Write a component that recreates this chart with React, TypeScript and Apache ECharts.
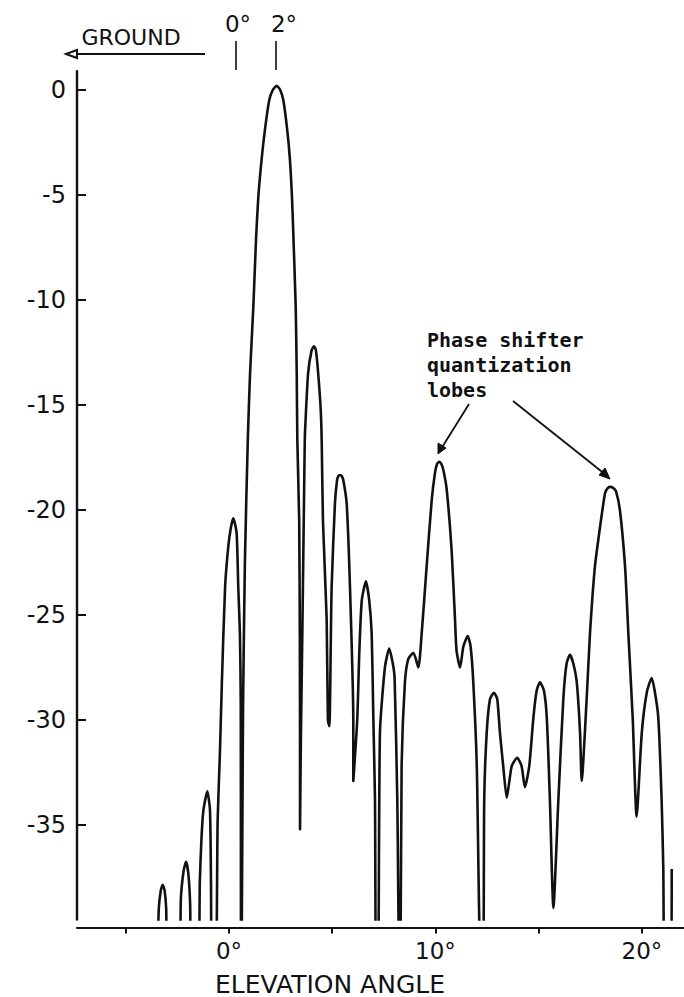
import React, { useEffect, useRef } from "react";
import * as echarts from "echarts";

// Antenna pattern: elevation angle (deg) vs relative level (dB)
const angleDeg: number[] = [
  -3.47, -3.4, -3.3, -3.21, -3.12, -3.04, -2.99,
  -2.42, -2.33, -2.2, -2.08, -1.97, -1.88, -1.83,
  -1.5, -1.41, -1.33, -1.24, -1.05, -0.92, -0.87, -0.83,
  -0.64, -0.55, -0.44, -0.35, -0.19, -0.03, 0.1, 0.21, 0.37, 0.45, 0.53, 0.57, 0.585,
  0.66, 0.68, 0.77, 0.91, 1.02, 1.18, 1.31, 1.42, 1.58, 1.74, 1.95, 2.12, 2.31, 2.48, 2.63, 2.82, 2.95, 3.05, 3.11, 3.23, 3.28, 3.31, 3.4, 3.43, 3.44, 3.44,
  3.48, 3.55, 3.62, 3.67, 3.7, 3.83, 4.0, 4.12, 4.21, 4.32, 4.44, 4.49, 4.55, 4.73, 4.79, 4.86,
  4.97, 5.13, 5.23, 5.3, 5.38, 5.46, 5.54, 5.7, 5.86, 6.02, 6.02,
  6.21, 6.31, 6.43, 6.63, 6.79, 6.91, 6.99, 7.07, 7.12,
  7.22, 7.31, 7.55, 7.76, 7.93, 8.02, 8.15, 8.25,
  8.3, 8.36, 8.52, 8.68, 8.93, 9.17, 9.33, 9.57, 9.82, 9.98, 10.08, 10.18, 10.28, 10.38, 10.54, 10.78, 10.94, 11.02, 11.19, 11.35, 11.56, 11.7, 11.83, 12.0, 12.19,
  12.31, 12.36, 12.48, 12.64, 12.83, 12.99, 13.12, 13.28, 13.45, 13.69, 13.96, 14.17, 14.33,
  14.54, 14.74, 14.9, 15.06, 15.25, 15.39, 15.54, 15.71,
  15.95, 16.19, 16.35, 16.51, 16.67, 16.84, 17.0, 17.08,
  17.32, 17.48, 17.72, 17.97, 18.21, 18.35, 18.48, 18.61, 18.74, 18.93, 19.18, 19.34, 19.55, 19.74,
  19.99, 20.23, 20.47, 20.63, 20.79, 20.95, 21.03, 21.11,
  21.4, 21.44,
];

const levelDb: number[] = [
  -42, -39.0, -38.1, -37.85, -38.1, -39.0, -42,
  -42, -38.5, -37.2, -36.75, -37.3, -38.8, -42,
  -42, -37.6, -35.6, -34.3, -33.4, -34.3, -37.9, -42,
  -42, -34.8, -31.6, -28.4, -23.7, -21.7, -20.8, -20.4, -21.1, -23.7, -25.9, -29.2, -45,
  -33, -29.5, -22.5, -16.7, -13.5, -10.3, -7.1, -5.1, -3.3, -1.9, -0.48, 0.0, 0.2, 0.0, -0.48, -1.9, -3.3, -5.1, -6.7, -10.3, -13.5, -16.7, -20.5, -26.0, -31.6, -35.2,
  -31.0, -26.0, -20.5, -16.7, -15.9, -13.5, -12.4, -12.2, -12.4, -13.5, -15.2, -16.7, -20.5, -25.2, -30.0, -30.3,
  -23.7, -19.7, -18.6, -18.38, -18.33, -18.38, -18.6, -19.7, -23.7, -30.0, -32.9,
  -30.0, -26.8, -24.3, -23.4, -24.3, -25.9, -29.9, -33.8, -42,
  -42, -30.6, -27.5, -26.6, -27.3, -28.0, -33.8, -42,
  -42, -32.2, -28.2, -27.1, -26.8, -27.5, -25.9, -22.7, -19.5, -18.2, -17.8, -17.7, -17.8, -18.1, -19.0, -21.9, -25.1, -26.7, -27.5, -26.5, -26.0, -26.5, -28.2, -32.2, -42,
  -42, -33.8, -30.6, -29.0, -28.7, -29.0, -30.6, -32.2, -33.7, -32.2, -31.8, -32.2, -33.2,
  -32.2, -29.9, -28.6, -28.2, -28.6, -29.9, -33.8, -38.95,
  -33.8, -29.0, -27.3, -26.9, -27.3, -28.2, -30.6, -32.9,
  -29.0, -25.9, -22.7, -20.8, -19.2, -18.95, -18.9, -18.95, -19.1, -20.0, -22.7, -25.9, -29.9, -34.6,
  -30.6, -28.7, -28.0, -28.7, -29.9, -33.8, -37.0, -42,
  -42, -37.1,
];

const yTickValues: number[] = [0, -5, -10, -15, -20, -25, -30, -35];
const xTickValues: number[] = [-5, 0, 5, 10, 15, 20];
const xLabelValues: number[] = [0, 10, 20];

const xAxisTitle = "ELEVATION ANGLE";
const groundLabel = "GROUND";
const topMarks: string[] = ["0°", "2°"];
const annotationLines: string[] = ["Phase shifter", "quantization", "lobes"];

export default function App() {
  const ref = useRef<HTMLDivElement>(null);

  useEffect(() => {
    if (!ref.current) return;
    const chart = echarts.init(ref.current, null, { renderer: "svg" });
    const data = angleDeg.map((a, i) => [a, levelDb[i]]);
    const ink = "#111";
    const font = "DejaVu Sans";

    chart.setOption({
      animation: false,
      backgroundColor: "#fff",
      grid: {
        left: 77,
        right: 0.7,
        top: 71.1,
        bottom: 77.5,
        outerBoundsMode: "none",
        containLabel: false,
      },
      xAxis: {
        type: "value",
        min: -7.36,
        max: 22,
        offset: 8,
        axisLine: { show: true, onZero: false, lineStyle: { color: ink, width: 2.2 } },
        axisTick: {
          show: true,
          inside: false,
          length: 6,
          customValues: xTickValues,
          lineStyle: { color: ink, width: 2 },
        },
        axisLabel: {
          show: true,
          customValues: xLabelValues,
          formatter: (v: number) => `${v}°`,
          color: ink,
          fontFamily: font,
          fontSize: 23,
          margin: 12,
        },
        splitLine: { show: false },
      },
      yAxis: {
        type: "value",
        min: -39.5,
        max: 0.9,
        axisLine: { show: true, onZero: false, lineStyle: { color: ink, width: 2.4 } },
        axisTick: {
          show: true,
          inside: true,
          length: 9,
          customValues: yTickValues,
          lineStyle: { color: ink, width: 2 },
        },
        axisLabel: {
          show: true,
          customValues: yTickValues,
          color: ink,
          fontFamily: font,
          fontSize: 24,
          margin: 11,
        },
        splitLine: { show: false },
      },
      series: [
        {
          type: "line",
          data,
          showSymbol: false,
          symbol: "none",
          clip: true,
          smooth: 0.2,
          lineStyle: { color: ink, width: 2.6, join: "round" },
        },
      ],
      graphic: [
        // GROUND arrow
        { type: "line", shape: { x1: 205, y1: 54, x2: 72, y2: 54 }, style: { stroke: ink, lineWidth: 2 } },
        { type: "polygon", shape: { points: [[66, 54], [77, 50], [77, 58]] }, style: { fill: "#fff", stroke: ink, lineWidth: 2 } },
        {
          type: "text",
          x: 131,
          y: 37,
          style: { text: groundLabel, font: `22px "${font}"`, fill: ink, textAlign: "center", textVerticalAlign: "middle" },
        },
        // top angle marks
        {
          type: "text",
          x: 238,
          y: 24,
          style: { text: topMarks[0], font: `23px "${font}"`, fill: ink, textAlign: "center", textVerticalAlign: "middle" },
        },
        {
          type: "text",
          x: 284,
          y: 24,
          style: { text: topMarks[1], font: `23px "${font}"`, fill: ink, textAlign: "center", textVerticalAlign: "middle" },
        },
        { type: "line", shape: { x1: 236, y1: 41, x2: 236, y2: 70 }, style: { stroke: ink, lineWidth: 1.6 } },
        { type: "line", shape: { x1: 276, y1: 41, x2: 276, y2: 70 }, style: { stroke: ink, lineWidth: 1.6 } },
        // axis title
        {
          type: "text",
          x: 330,
          y: 984,
          style: { text: xAxisTitle, font: `25px "${font}"`, fill: ink, textAlign: "center", textVerticalAlign: "middle" },
        },
        // annotation
        {
          type: "text",
          x: 427,
          y: 365,
          style: {
            text: annotationLines.join("\n"),
            font: `bold 20px "DejaVu Sans Mono"`,
            lineHeight: 25,
            fill: ink,
            textAlign: "left",
            textVerticalAlign: "middle",
          },
        },
        { type: "line", shape: { x1: 469, y1: 404, x2: 441, y2: 449 }, style: { stroke: ink, lineWidth: 1.8 } },
        { type: "polygon", shape: { points: [[438, 454], [438, 443], [446, 448]] }, style: { fill: ink, stroke: ink, lineWidth: 1 } },
        { type: "line", shape: { x1: 513, y1: 401, x2: 606, y2: 475 }, style: { stroke: ink, lineWidth: 1.8 } },
        { type: "polygon", shape: { points: [[610, 479], [599, 475], [605, 468]] }, style: { fill: ink, stroke: ink, lineWidth: 1 } },
      ],
    });

    return () => chart.dispose();
  }, []);

  return (
    <div
      ref={ref}
      style={{ position: "fixed", left: 0, top: 0, width: 684, height: 997, background: "#fff" }}
    />
  );
}
